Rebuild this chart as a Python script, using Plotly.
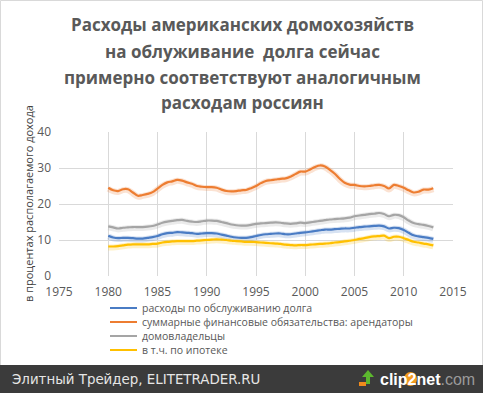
import plotly.graph_objects as go

W, H = 483, 393

years = [1980.0, 1980.5, 1981.0, 1981.5, 1982.0, 1982.5, 1983.0, 1983.5, 1984.0, 1984.5,
         1985.0, 1985.5, 1986.0, 1986.5, 1987.0, 1987.5, 1988.0, 1988.5, 1989.0, 1989.5,
         1990.0, 1990.5, 1991.0, 1991.5, 1992.0, 1992.5, 1993.0, 1993.5, 1994.0, 1994.5,
         1995.0, 1995.5, 1996.0, 1996.5, 1997.0, 1997.5, 1998.0, 1998.5, 1999.0, 1999.5,
         2000.0, 2000.5, 2001.0, 2001.5, 2002.0, 2002.5, 2003.0, 2003.5, 2004.0, 2004.5,
         2005.0, 2005.5, 2006.0, 2006.5, 2007.0, 2007.5, 2008.0, 2008.5, 2009.0, 2009.5,
         2010.0, 2010.5, 2011.0, 2011.5, 2012.0, 2012.5, 2013.0]

debt_service = [11.2, 10.7, 10.5, 10.6, 10.6, 10.5, 10.4, 10.4, 10.6, 10.8,
                11.1, 11.6, 11.9, 12.0, 12.2, 12.1, 12.0, 11.9, 11.7, 11.8,
                11.9, 11.9, 11.8, 11.5, 11.2, 10.9, 10.7, 10.6, 10.6, 10.8,
                11.1, 11.4, 11.6, 11.7, 11.8, 11.8, 11.6, 11.6, 11.8, 12.0,
                12.1, 12.3, 12.5, 12.7, 12.9, 12.9, 13.0, 13.1, 13.2, 13.2,
                13.4, 13.6, 13.7, 13.8, 13.9, 14.0, 13.8, 13.2, 13.4, 13.3,
                12.8, 12.0, 11.3, 11.0, 10.8, 10.6, 10.3]

renters = [24.5, 23.8, 23.6, 24.1, 24.1, 23.2, 22.3, 22.5, 22.8, 23.3,
           24.3, 25.3, 26.0, 26.3, 26.7, 26.5, 26.0, 25.6, 25.0, 24.8,
           24.7, 24.7, 24.5, 24.0, 23.6, 23.5, 23.6, 23.8, 23.9, 24.4,
           25.0, 25.8, 26.4, 26.6, 26.8, 27.0, 27.1, 27.6, 28.3, 29.0,
           29.0, 29.6, 30.3, 30.7, 30.4, 29.5, 28.4, 27.0, 25.9, 25.4,
           25.3, 25.0, 24.9, 25.0, 25.2, 25.3, 25.0, 24.3, 25.3, 25.0,
           24.5, 23.8, 23.2, 23.4, 24.0, 24.0, 24.4]

homeowners = [13.8, 13.5, 13.2, 13.4, 13.5, 13.6, 13.6, 13.6, 13.7, 13.9,
              14.3, 14.8, 15.1, 15.3, 15.5, 15.6, 15.3, 15.1, 15.0, 15.2,
              15.4, 15.4, 15.3, 15.0, 14.7, 14.3, 14.1, 14.0, 14.0, 14.2,
              14.5, 14.6, 14.7, 14.8, 14.9, 14.8, 14.6, 14.5, 14.6, 14.8,
              14.7, 14.9, 15.1, 15.3, 15.5, 15.7, 15.8, 15.9, 16.0, 16.2,
              16.6, 16.8, 17.0, 17.2, 17.3, 17.5, 17.2, 16.6, 17.0, 16.9,
              16.3, 15.4, 14.7, 14.4, 14.2, 13.9, 13.5]

mortgage = [8.2, 8.2, 8.3, 8.5, 8.7, 8.8, 8.8, 8.8, 8.8, 8.9,
            9.0, 9.3, 9.5, 9.6, 9.7, 9.7, 9.7, 9.7, 9.8, 9.9,
            10.0, 10.1, 10.2, 10.1, 10.0, 9.8, 9.7, 9.6, 9.5, 9.5,
            9.4, 9.3, 9.2, 9.1, 9.0, 8.9, 8.7, 8.6, 8.5, 8.6,
            8.6, 8.7, 8.8, 8.9, 9.0, 9.1, 9.3, 9.4, 9.6, 9.8,
            10.0, 10.3, 10.5, 10.8, 11.0, 11.1, 11.2, 10.5, 10.9, 10.9,
            10.5, 10.0, 9.5, 9.3, 9.0, 8.8, 8.5]

series_names = ["расходы по обслуживанию долга",
                "суммарные финансовые обязательства: арендаторы",
                "домовладельцы",
                "в т.ч. по ипотеке"]
series_values = [debt_service, renters, homeowners, mortgage]
series_colors = ["#4a7cc4", "#ed7d31", "#a5a5a5", "#ffc000"]
glow_colors = ["rgba(74,124,196,0.22)", "rgba(237,125,49,0.22)",
               "rgba(165,165,165,0.22)", "rgba(255,192,0,0.22)"]

title_lines = ["Расходы американских домохозяйств",
               "на облуживание  долга сейчас",
               "примерно соответствуют аналогичным",
               "расходам россиян"]
y_title = "в процентах располагаемого дохода"
x_ticks = [1975, 1980, 1985, 1990, 1995, 2000, 2005, 2010, 2015]
y_ticks = [0, 10, 20, 30, 40]
footer_text = "Элитный Трейдер, ELITETRADER.RU"

FONT = "Open Sans"

def px(x):
    return x / W

def py(y):
    return 1 - y / H

fig = go.Figure()
for vals, gc in zip(series_values, glow_colors):
    fig.add_trace(go.Scatter(x=years, y=[v - 0.25 for v in vals], mode="lines",
                             line=dict(color=gc, width=6, shape="spline"),
                             showlegend=False, hoverinfo="skip"))
for name, vals, c in zip(series_names, series_values, series_colors):
    fig.add_trace(go.Scatter(x=years, y=vals, mode="lines", name=name,
                             line=dict(color=c, width=2.2, shape="spline"),
                             showlegend=False))

plot_l, plot_r, plot_t, plot_b = 59, 453, 132, 276

shapes = [
    dict(type="rect", xref="paper", yref="paper", x0=px(0.5), x1=px(482.5),
         y0=py(0.5), y1=py(366), line=dict(color="#d9d9d9", width=1),
         fillcolor="rgba(0,0,0,0)", layer="below"),
    dict(type="rect", xref="paper", yref="paper", x0=0, x1=1,
         y0=0, y1=py(365), line=dict(width=0), fillcolor="#3b3b3b"),
]
annotations = []

for i, line in enumerate(title_lines):
    annotations.append(dict(text="<b>" + line + "</b>", x=px(242), y=py(25 + i * 26),
                            xref="paper", yref="paper", showarrow=False,
                            xanchor="center", yanchor="middle",
                            font=dict(family=FONT, size=17, color="#595959")))

annotations.append(dict(text=y_title, x=px(28), y=py(204), xref="paper", yref="paper",
                        showarrow=False, textangle=-90, xanchor="center", yanchor="middle",
                        font=dict(family=FONT, size=11, color="#404040")))

leg_y = [308, 322, 336, 350]
for name, c, yy in zip(series_names, series_colors, leg_y):
    shapes.append(dict(type="line", xref="paper", yref="paper",
                       x0=px(110), x1=px(137), y0=py(yy), y1=py(yy),
                       line=dict(color=c, width=2)))
    annotations.append(dict(text=name, x=px(140), y=py(yy), xref="paper", yref="paper",
                            showarrow=False, xanchor="left", yanchor="middle",
                            font=dict(family=FONT, size=10.5, color="#595959")))

annotations.append(dict(text=footer_text, x=px(10), y=py(379), xref="paper", yref="paper",
                        showarrow=False, xanchor="left", yanchor="middle",
                        font=dict(family="DejaVu Sans", size=13.4, color="#e6e6e6")))

# clip2net logo
shapes.append(dict(type="path", xref="paper", yref="paper",
                   path="M {},{} L {},{} L {},{} Z".format(px(362), py(377), px(368), py(370), px(374), py(377)),
                   fillcolor="#5cb82e", line=dict(width=0)))
shapes.append(dict(type="rect", xref="paper", yref="paper",
                   x0=px(366), x1=px(370), y0=py(377), y1=py(384),
                   fillcolor="#5cb82e", line=dict(width=0)))
shapes.append(dict(type="rect", xref="paper", yref="paper",
                   x0=px(359), x1=px(366), y0=py(382), y1=py(386),
                   fillcolor="#f08a1c", line=dict(width=0)))
shapes.append(dict(type="circle", xref="paper", yref="paper",
                   x0=px(404), x1=px(417), y0=py(372), y1=py(386),
                   fillcolor="#f39a1e", line=dict(width=0)))
annotations.append(dict(text="<b>clip</b><b><span style='color:#ffffff'>2</span></b><b>net</b><span style='color:#9a9a9a'>.com</span>",
                        x=px(378), y=py(379), xref="paper", yref="paper",
                        showarrow=False, xanchor="left", yanchor="middle",
                        font=dict(family="Liberation Sans", size=16, color="#ffffff")))

fig.update_layout(
    width=W, height=H,
    margin=dict(l=0, r=0, t=0, b=0),
    paper_bgcolor="white", plot_bgcolor="white",
    showlegend=False,
    shapes=shapes, annotations=annotations,
    xaxis=dict(domain=[px(plot_l), px(plot_r)], range=[1975, 2015],
               tickvals=x_ticks, ticktext=[str(t) for t in x_ticks],
               showgrid=True, gridcolor="#d9d9d9", gridwidth=1,
               zeroline=False, showline=False, ticks="", automargin=False,
               ticklabelstandoff=7,
               tickfont=dict(family=FONT, size=12, color="#595959")),
    yaxis=dict(domain=[py(plot_b), py(plot_t)], range=[0, 40],
               tickvals=y_ticks, showgrid=True, gridcolor="#d9d9d9", gridwidth=1,
               zeroline=False, showline=False, ticks="", automargin=False,
               ticklabelstandoff=7,
               tickfont=dict(family=FONT, size=12, color="#595959")),
)

fig.write_html("out.html", config={"displayModeBar": False},
               post_script="document.body.style.margin='0';document.body.style.overflow='hidden';")
